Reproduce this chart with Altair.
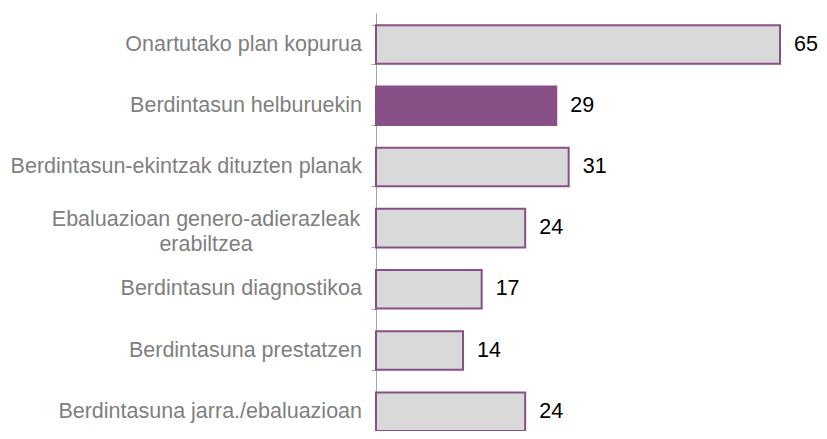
import altair as alt
import pandas as pd

categories = [
    "Onartutako plan kopurua",
    "Berdintasun helburuekin",
    "Berdintasun-ekintzak dituzten planak",
    "Ebaluazioan genero-adierazleak\nerabiltzea",
    "Berdintasun diagnostikoa",
    "Berdintasuna prestatzen",
    "Berdintasuna jarra./ebaluazioan",
]
values = [65, 29, 31, 24, 17, 14, 24]
highlight = [False, True, False, False, False, False, False]

df = pd.DataFrame({"cat": categories, "value": values, "hl": highlight})
df["multi"] = df["cat"].str.contains("\n")

PURPLE = "#885086"
GRAY_FILL = "#d9d9d9"
FONT = "Liberation Sans"
FS = 21.5

y_enc = alt.Y(
    "cat:N",
    sort=categories,
    scale=alt.Scale(paddingInner=0.37, paddingOuter=0.1, align=1),
    axis=alt.Axis(
        title=None,
        labels=False,
        tickBand="extent",
        ticks=True,
        tickSize=5,
        tickColor="#a6a6a6",
        domainColor="#a6a6a6",
        domainWidth=1,
        grid=False,
    ),
)
x_enc = alt.X("value:Q", scale=alt.Scale(domain=[0, 65], nice=False, zero=True), axis=None)

bars = alt.Chart(df).mark_bar(strokeWidth=2, stroke=PURPLE).encode(
    x=x_enc,
    y=y_enc,
    fill=alt.condition("datum.hl", alt.value(PURPLE), alt.value(GRAY_FILL)),
)

vals = alt.Chart(df).mark_text(
    align="left", baseline="middle", dx=14, font=FONT, fontSize=FS, color="#000000"
).encode(x=x_enc, y=y_enc, text="value:Q")

labels_single = alt.Chart(df).transform_filter("!datum.multi").mark_text(
    align="right", baseline="middle", font=FONT, fontSize=FS, color="#7f7f7f"
).encode(x=alt.value(-14), y=y_enc, text="cat:N")

labels_multi = alt.Chart(df).transform_filter("datum.multi").mark_text(
    align="center", baseline="middle", font=FONT, fontSize=FS, color="#7f7f7f",
    lineBreak="\n", lineHeight=25, dy=-8,
).encode(x=alt.value(-170), y=y_enc, text="cat:N")

chart = alt.layer(bars, vals, labels_single, labels_multi).properties(
    width=404,
    height=418,
    autosize=alt.AutoSizeParams(type="none"),
    padding={"left": 368, "top": 5, "right": 39, "bottom": 0},
).configure_view(stroke=None)

chart.save("out.html", embed_options={"renderer": "svg", "actions": False})
